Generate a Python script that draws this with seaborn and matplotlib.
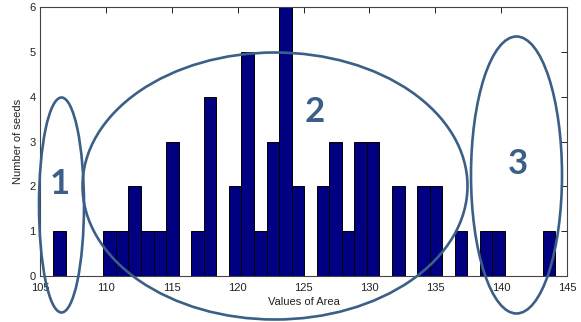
import numpy as np
import pandas as pd
import matplotlib
matplotlib.use("Agg")
import matplotlib.pyplot as plt
from matplotlib.patches import Ellipse
import seaborn as sns

# 40-bin histogram of seed area, counts
area_min = 106.0
area_max = 144.1
bin_counts = [1, 0, 0, 0, 1, 1, 2, 1, 1, 3,
              0, 1, 4, 0, 2, 5, 1, 3, 6, 2,
              0, 2, 3, 1, 3, 3, 0, 2, 0, 2,
              2, 0, 1, 0, 1, 1, 0, 0, 0, 1]
x_ticks = [105, 110, 115, 120, 125, 130, 135, 140, 145]
y_ticks = [0, 1, 2, 3, 4, 5, 6]
group_labels = ["1", "2", "3"]

edges = np.linspace(area_min, area_max, len(bin_counts) + 1)
df = pd.DataFrame({"area": (edges[:-1] + edges[1:]) / 2, "n": bin_counts})

sns.set_style("white")
plt.rcParams['font.family'] = ['Liberation Sans Narrow', 'Liberation Sans', 'DejaVu Sans']

fig = plt.figure(figsize=(5.81, 3.22), dpi=100)
ax = fig.add_axes([40 / 581, 46 / 322, 527 / 581, 269 / 322])

sns.histplot(data=df, x="area", weights="n", bins=list(edges), ax=ax,
             color="#000080", edgecolor="black", alpha=1, linewidth=0.7)

ax.set_xlim(105, 145)
ax.set_ylim(0, 6)
ax.set_xticks(x_ticks)
ax.set_yticks(y_ticks)
ax.tick_params(direction="in", top=True, right=True, length=4, width=0.7,
               labelsize=8, colors="#222222")
ax.tick_params(axis="x", pad=5)
ax.tick_params(axis="y", pad=3)
for s in ax.spines.values():
    s.set_color("#444444")
    s.set_linewidth(0.8)
ax.set_xlabel("Values of Area", fontsize=8, color="#222222", labelpad=3)
ax.set_ylabel("Number of seeds", fontsize=8, color="#222222", labelpad=5)

# group ellipses and numbers (pixel positions in figure)
ring = "#3b5f86"
W, H = 581, 322
for cx, cy, w, h in [(61.5, 205, 45, 215), (275, 186, 385, 267), (516.5, 175, 91, 277)]:
    e = Ellipse((cx / W, 1 - cy / H), w / W, h / H, transform=fig.transFigure,
                fill=False, edgecolor=ring, linewidth=1.9, clip_on=False)
    fig.add_artist(e)

for lab, (px, py) in zip(group_labels, [(60, 184), (315, 112), (518, 164)]):
    fig.text(px / W, 1 - py / H, lab, ha="center", va="center",
             fontsize=25, fontweight="bold", color=ring,
             family=['Lato', 'DejaVu Sans'])

fig.savefig("out.png", dpi=100)
